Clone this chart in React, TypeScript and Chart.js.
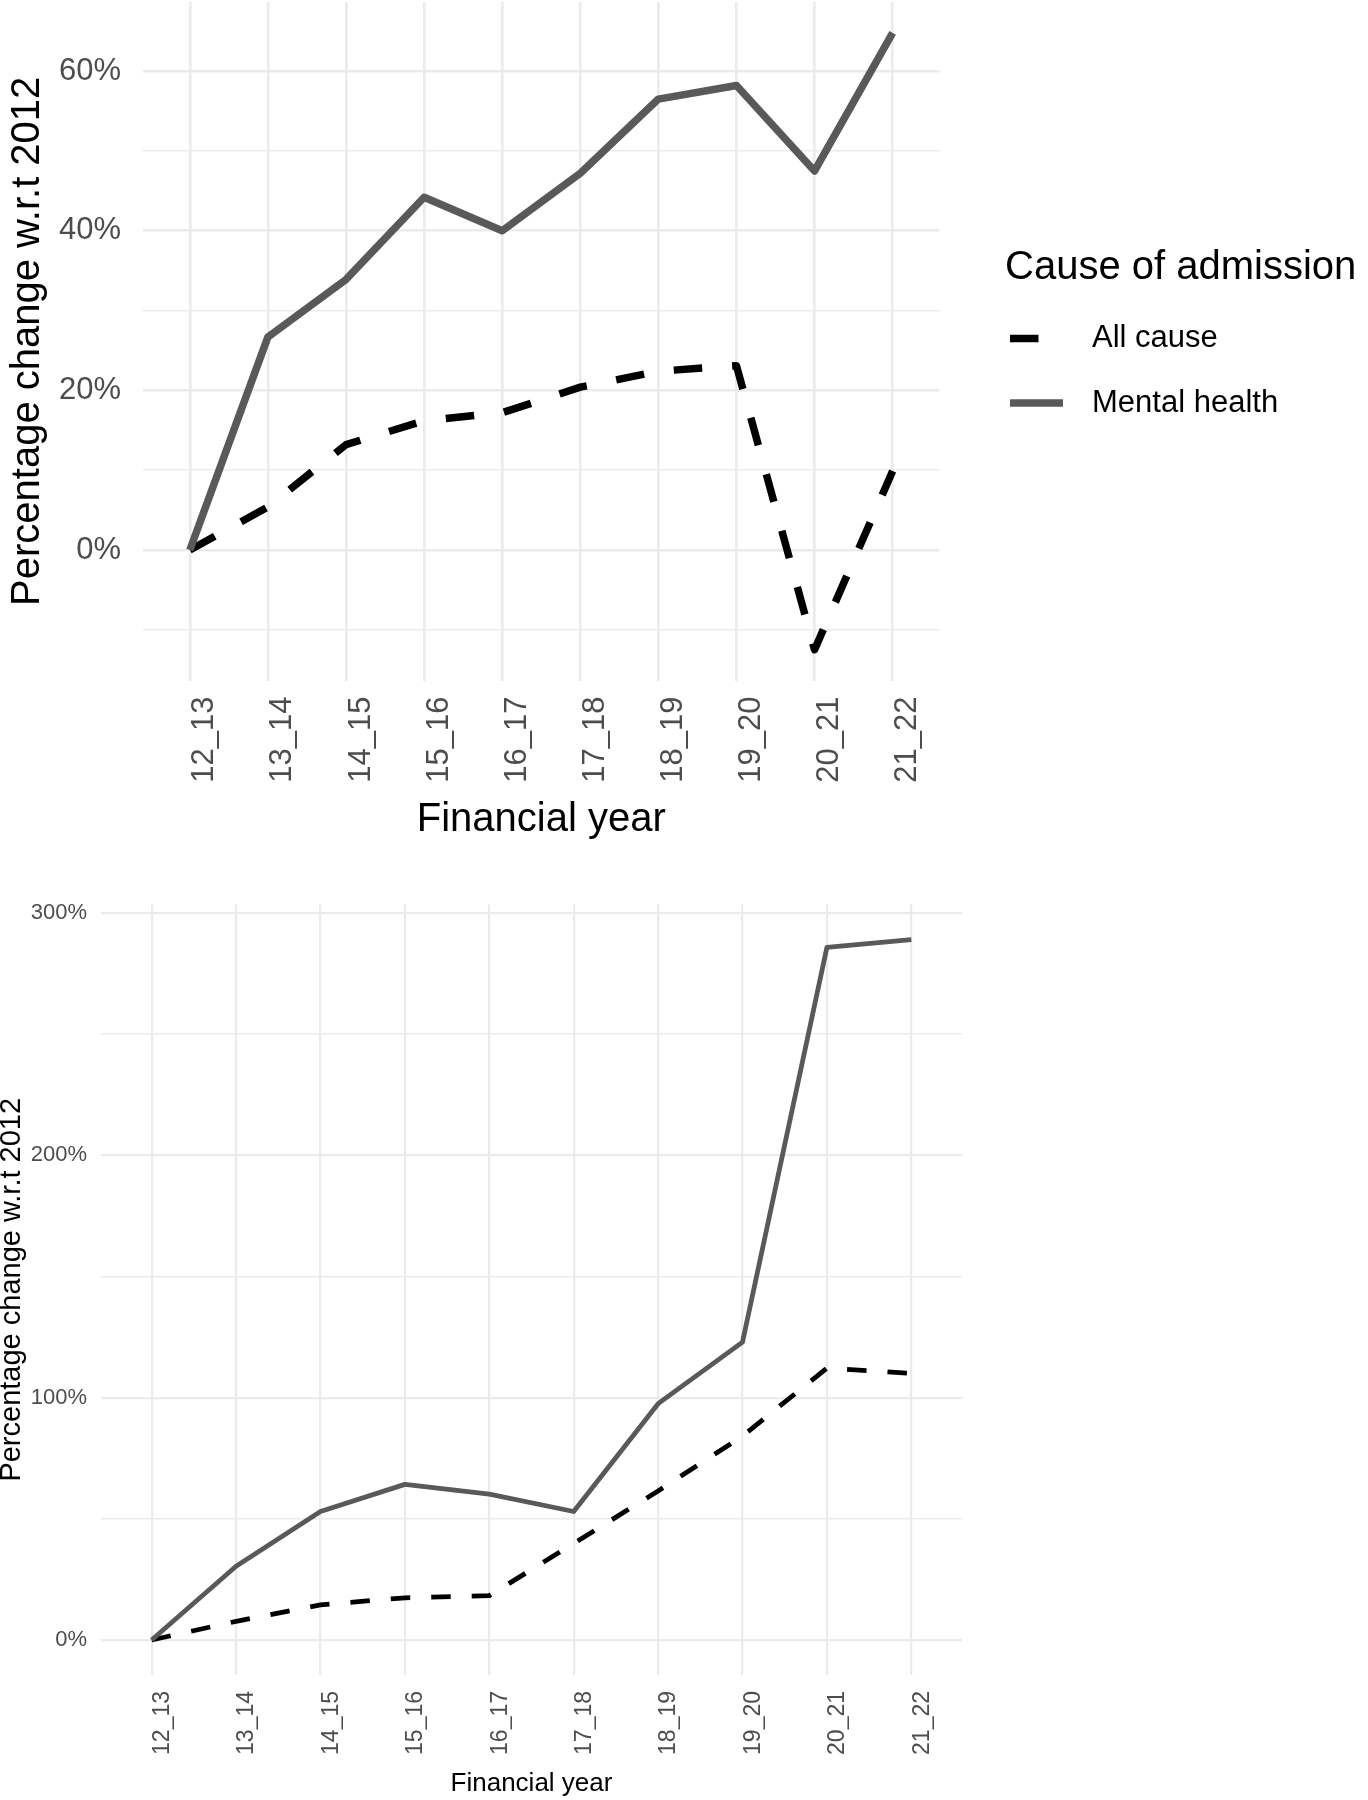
import { useEffect, useRef } from "react";
import Chart from "chart.js/auto";

const FONT = "'Liberation Sans', Arial, sans-serif";
const GRID = "#EBEBEB";
const TICK = "#4D4D4D";

const years = ["12_13", "13_14", "14_15", "15_16", "16_17", "17_18", "18_19", "19_20", "20_21", "21_22"];
const seriesNames = ["All cause", "Mental health"];

// upper panel
const allCauseTop = [0, 5.4, 13.2, 16.2, 17.2, 20.4, 22.4, 23.1, -12.5, 9.9];
const mentalTop = [0, 26.7, 33.9, 44.2, 40.0, 47.2, 56.5, 58.2, 47.5, 64.8];
const gridTop = [-10, 0, 10, 20, 30, 40, 50, 60];
const labelledTop = [0, 20, 40, 60];

// lower panel
const allCauseBottom = [0, 7.7, 14.5, 17.4, 18.3, 39.8, 61.5, 84.1, 112.2, 110];
const mentalBottom = [0, 30.4, 53, 64.2, 60.2, 53, 97.5, 122.9, 285.8, 289];
const gridBottom = [0, 50, 100, 150, 200, 250, 300];
const labelledBottom = [0, 100, 200, 300];

const legendPlugin = {
  id: "sideLegend",
  afterDraw(chart: any) {
    const { ctx } = chart;
    ctx.save();
    ctx.fillStyle = "#000";
    ctx.textAlign = "left";
    ctx.textBaseline = "alphabetic";
    ctx.font = `40px ${FONT}`;
    ctx.fillText("Cause of admission", 1005, 279);
    chart.data.datasets.forEach((ds: any, i: number) => {
      const cy = 338.5 + i * 64.5;
      ctx.strokeStyle = ds.borderColor;
      ctx.lineWidth = ds.borderWidth;
      ctx.lineCap = "butt";
      ctx.setLineDash(ds.borderDash || []);
      ctx.beginPath();
      ctx.moveTo(1010, cy);
      ctx.lineTo(1063, cy);
      ctx.stroke();
      ctx.setLineDash([]);
      ctx.font = `31px ${FONT}`;
      ctx.textBaseline = "middle";
      ctx.fillStyle = "#000";
      ctx.fillText(ds.label, 1092, cy);
    });
    ctx.restore();
  },
};

type PanelProps = {
  allCause: number[];
  mental: number[];
  grid: number[];
  labelled: number[];
  width: number;
  height: number;
  area: { left: number; right: number; top: number; bottom: number };
  lineWidth: number;
  dash: number[];
  gridMajor: number;
  gridMinor: number;
  yTickSize: number;
  yTickPad: number;
  xTickSize: number;
  xTickPad: number;
  xLabelOffset: number;
  xTitleSize: number;
  xTitlePad: number;
  yTitleSize: number;
  yTitleLine: number;
  yTitlePad: number;
  legend: boolean;
};

const Panel = (p: PanelProps) => {
  const ref = useRef<HTMLCanvasElement>(null);

  useEffect(() => {
    if (!ref.current) return;
    const all = [...p.allCause, ...p.mental];
    const lo = Math.min(...all);
    const hi = Math.max(...all);
    const pad = (hi - lo) * 0.05;

    const chart = new Chart(ref.current, {
      type: "line",
      data: {
        datasets: [
          {
            label: seriesNames[0],
            data: p.allCause.map((v, i) => ({ x: i, y: v })),
            borderColor: "#000000",
            borderWidth: p.lineWidth,
            borderDash: p.dash,
            borderCapStyle: "butt",
            borderJoinStyle: "round",
            pointRadius: 0,
            tension: 0,
            order: 1,
          },
          {
            label: seriesNames[1],
            data: p.mental.map((v, i) => ({ x: i, y: v })),
            borderColor: "#595959",
            borderWidth: p.lineWidth,
            borderCapStyle: "butt",
            borderJoinStyle: "round",
            pointRadius: 0,
            tension: 0,
            order: 0,
          },
        ],
      },
      options: {
        responsive: false,
        animation: false,
        layout: {
          padding: { left: 0, top: p.area.top, right: p.width - p.area.right, bottom: 0 },
        },
        plugins: { legend: { display: false }, tooltip: { enabled: false } },
        scales: {
          x: {
            type: "linear",
            bounds: "data",
            min: -0.6,
            max: years.length - 1 + 0.6,
            afterBuildTicks: (s: any) => {
              s.ticks = years.map((_, i) => ({ value: i }));
            },
            afterFit: (s: any) => {
              s.height = p.height - p.area.bottom;
              s.paddingLeft = 0;
              s.paddingRight = 0;
              s.paddingTop = 0;
              s.paddingBottom = 0;
            },
            grid: { color: GRID, lineWidth: p.gridMajor, drawTicks: false },
            border: { display: false },
            ticks: {
              autoSkip: false,
              minRotation: 90,
              maxRotation: 90,
              padding: p.xTickPad,
              labelOffset: p.xLabelOffset,
              color: TICK,
              font: { family: FONT, size: p.xTickSize },
              callback: (_v: any, i: number) => years[i],
            },
            title: {
              display: true,
              text: "Financial year",
              color: "#000",
              font: { family: FONT, size: p.xTitleSize, lineHeight: 1 },
              padding: { top: 0, bottom: p.xTitlePad },
            },
          },
          y: {
            type: "linear",
            bounds: "data",
            min: lo - pad,
            max: hi + pad,
            afterBuildTicks: (s: any) => {
              s.ticks = p.grid.map((v) => ({ value: v }));
            },
            afterFit: (s: any) => {
              s.width = p.area.left;
              s.paddingLeft = 0;
              s.paddingRight = 0;
              s.paddingTop = 0;
              s.paddingBottom = 0;
            },
            grid: {
              color: GRID,
              lineWidth: (c: any) => (p.labelled.includes(c.tick?.value) ? p.gridMajor : p.gridMinor),
              drawTicks: false,
            },
            border: { display: false },
            ticks: {
              padding: p.yTickPad,
              color: TICK,
              font: { family: FONT, size: p.yTickSize },
              callback: (v: any) => (p.labelled.includes(v) ? `${v}%` : ""),
            },
            title: {
              display: true,
              text: "Percentage change w.r.t 2012",
              color: "#000",
              font: { family: FONT, size: p.yTitleSize, lineHeight: p.yTitleLine },
              padding: { top: p.yTitlePad, bottom: 0 },
            },
          },
        },
      },
      plugins: p.legend ? [legendPlugin] : [],
    } as any);

    return () => {
      chart.destroy();
    };
  }, []);

  return <canvas ref={ref} width={p.width} height={p.height} style={{ display: "block" }} />;
};

const App = () => {
  return (
    <div style={{ position: "absolute", left: 0, top: 0, width: 1368, height: 1800, background: "#fff" }}>
      <div style={{ position: "absolute", left: 0, top: 0 }}>
        <Panel
          allCause={allCauseTop}
          mental={mentalTop}
          grid={gridTop}
          labelled={labelledTop}
          width={1368}
          height={860}
          area={{ left: 143, right: 939.5, top: 2, bottom: 680.6 }}
          lineWidth={7.5}
          dash={[28.5, 30]}
          gridMajor={2.6}
          gridMinor={1.6}
          yTickSize={31}
          yTickPad={22}
          xTickSize={31}
          xTickPad={16}
          xLabelOffset={15}
          xTitleSize={40}
          xTitlePad={20}
          yTitleSize={40}
          yTitleLine={1}
          yTitlePad={8}
          legend={true}
        />
      </div>
      <div style={{ position: "absolute", left: 0, top: 880 }}>
        <Panel
          allCause={allCauseBottom}
          mental={mentalBottom}
          grid={gridBottom}
          labelled={labelledBottom}
          width={1368}
          height={920}
          area={{ left: 101, right: 962, top: 24.5, bottom: 795 }}
          lineWidth={4.8}
          dash={[19.5, 21]}
          gridMajor={2.2}
          gridMinor={1.4}
          yTickSize={22}
          yTickPad={14}
          xTickSize={23}
          xTickPad={16}
          xLabelOffset={11}
          xTitleSize={26}
          xTitlePad={3}
          yTitleSize={29}
          yTitleLine={0.7}
          yTitlePad={1.5}
          legend={false}
        />
      </div>
    </div>
  );
};

export default App;
